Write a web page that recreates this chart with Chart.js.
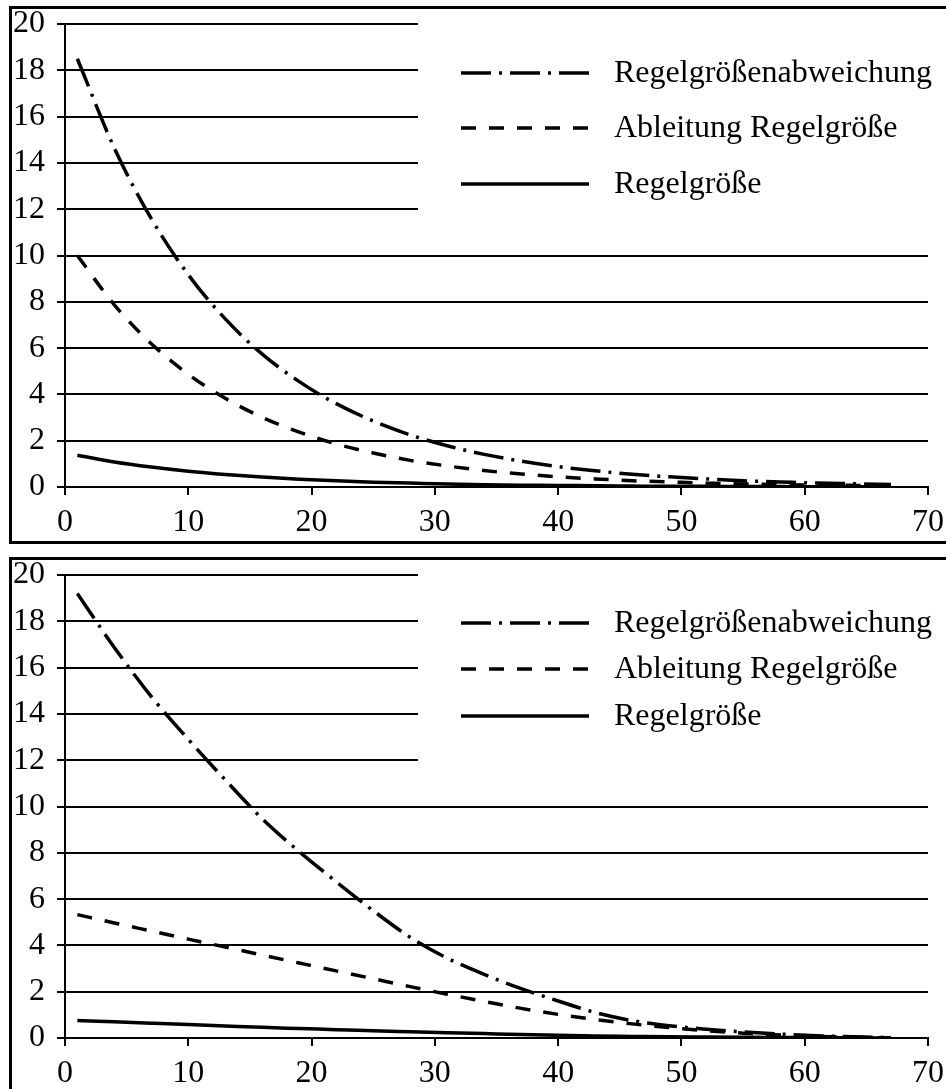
<!DOCTYPE html>
<html>
<head>
<meta charset="utf-8">
<script src="https://cdn.jsdelivr.net/npm/chart.js@4.4.0/dist/chart.umd.min.js"></script>
<style>
  html, body { margin: 0; padding: 0; background: #fff; overflow: hidden; }
  .box { position: absolute; left: 9px; width: 1000px; border: 3px solid #000; }
  #box1 { top: 6px; height: 532px; }
  #box2 { top: 557px; height: 540px; }
  canvas { display: block; }
</style>
</head>
<body>
<div class="box" id="box1"><canvas id="chart1" width="950" height="532"></canvas></div>
<div class="box" id="box2"><canvas id="chart2" width="950" height="532"></canvas></div>
<script>
// x positions of the samples (time steps)
const steps = [1, 4, 7, 10, 13, 16, 19, 22, 25, 28, 31, 34, 37, 40, 43, 46, 49, 52, 55, 58, 61, 64, 67];

const seriesNames = ['Regelgrößenabweichung', 'Ableitung Regelgröße', 'Regelgröße'];

// upper chart
const abweichung1 = [18.5, 14.64, 11.59, 9.17, 7.26, 5.74, 4.55, 3.60, 2.85, 2.25, 1.78, 1.41, 1.12, 0.88, 0.70, 0.55, 0.44, 0.35, 0.27, 0.22, 0.17, 0.14, 0.11];
const ableitung1 = [10, 7.87, 6.19, 4.87, 3.83, 3.01, 2.37, 1.86, 1.47, 1.15, 0.91, 0.71, 0.56, 0.44, 0.35, 0.27, 0.22, 0.17, 0.13, 0.10, 0.08, 0.07, 0.05];
const regel1 = [1.37, 1.08, 0.86, 0.68, 0.54, 0.43, 0.34, 0.27, 0.21, 0.17, 0.13, 0.10, 0.08, 0.07, 0.05, 0.04, 0.03, 0.03, 0.02, 0.02, 0.01, 0.01, 0.01];

// lower chart
const abweichung2 = [19.2, 16.87, 14.75, 12.9, 11.15, 9.47, 8.05, 6.75, 5.5, 4.35, 3.45, 2.75, 2.13, 1.6, 1.1, 0.75, 0.53, 0.38, 0.26, 0.17, 0.1, 0.05, 0.02];
const ableitung2 = [5.33, 4.97, 4.62, 4.27, 3.93, 3.58, 3.24, 2.90, 2.56, 2.22, 1.89, 1.58, 1.28, 1.02, 0.80, 0.61, 0.45, 0.32, 0.21, 0.13, 0.07, 0.03, 0.01];
const regel2 = [0.76, 0.70, 0.64, 0.58, 0.52, 0.46, 0.41, 0.36, 0.31, 0.27, 0.23, 0.19, 0.15, 0.12, 0.09, 0.07, 0.05, 0.04, 0.03, 0.02, 0.01, 0.01, 0.0];

const xTicks = [0, 10, 20, 30, 40, 50, 60, 70];
const yTicks = [0, 2, 4, 6, 8, 10, 12, 14, 16, 18, 20];

const FONT = "'Liberation Serif', 'Times New Roman', serif";
const dashes = [[30, 8, 3, 8], [15, 13], []];

const toPoints = (ys) => ys.map((y, i) => ({ x: steps[i], y: y }));

// legend drawn inside the plot, white box hides the grid behind it
const boxLegend = {
  id: 'boxLegend',
  afterDraw(chart, args, opts) {
    const ctx = chart.ctx;
    const ys = chart.scales.y;
    const top = ys.getPixelForValue(20) - 3;
    const bottom = ys.getPixelForValue(12) + 3;
    ctx.save();
    ctx.fillStyle = '#fff';
    ctx.fillRect(opts.left, top, chart.width - opts.left, bottom - top);
    chart.data.datasets.forEach((ds, i) => {
      const y = opts.rows[i];
      ctx.strokeStyle = '#000';
      ctx.lineWidth = 3.5;
      ctx.setLineDash(ds.borderDash || []);
      ctx.beginPath();
      ctx.moveTo(opts.lineX0, y);
      ctx.lineTo(opts.lineX1, y);
      ctx.stroke();
      ctx.setLineDash([]);
      ctx.fillStyle = '#000';
      ctx.font = '32px ' + FONT;
      ctx.textBaseline = 'alphabetic';
      ctx.fillText(ds.label, opts.textX, y + 9);
    });
    ctx.restore();
  }
};

function makeChart(id, series, rows) {
  const datasets = series.map((ys, i) => ({
    label: seriesNames[i],
    data: toPoints(ys),
    borderColor: '#000',
    borderWidth: 3.5,
    borderDash: dashes[i],
    pointRadius: 0,
    fill: false,
    cubicInterpolationMode: 'monotone'
  }));
  return new Chart(document.getElementById(id), {
    type: 'line',
    data: { datasets: datasets },
    plugins: [boxLegend],
    options: {
      responsive: false,
      animation: false,
      layout: { padding: { top: 15, right: 34, left: 0, bottom: 0 } },
      plugins: {
        legend: { display: false },
        tooltip: { enabled: false },
        boxLegend: { left: 406, lineX0: 449, lineX1: 577, textX: 602, rows: rows }
      },
      scales: {
        x: {
          type: 'linear',
          min: xTicks[0],
          max: xTicks[xTicks.length - 1],
          afterBuildTicks: (s) => { s.ticks = xTicks.map(v => ({ value: v })); },
          afterFit: (s) => { s.height = 54; },
          grid: { drawOnChartArea: false, drawTicks: true, tickLength: 8, color: '#000', lineWidth: 2 },
          border: { display: true, color: '#000', width: 2 },
          ticks: { color: '#000', padding: 13, maxRotation: 0, font: { family: FONT, size: 32, lineHeight: 0.9 } }
        },
        y: {
          min: yTicks[0],
          max: yTicks[yTicks.length - 1],
          afterBuildTicks: (s) => { s.ticks = yTicks.map(v => ({ value: v })); },
          afterFit: (s) => { s.width = 53; s.paddingTop = 0; s.paddingBottom = 0; },
          grid: { color: '#000', lineWidth: 2, tickLength: 8 },
          border: { display: true, color: '#000', width: 2 },
          ticks: { color: '#000', padding: 12, font: { family: FONT, size: 32, lineHeight: 0.9 } }
        }
      }
    }
  });
}

makeChart('chart1', [abweichung1, ableitung1, regel1], [64, 119, 175]);
makeChart('chart2', [abweichung2, ableitung2, regel2], [63, 109, 156]);
</script>
</body>
</html>
